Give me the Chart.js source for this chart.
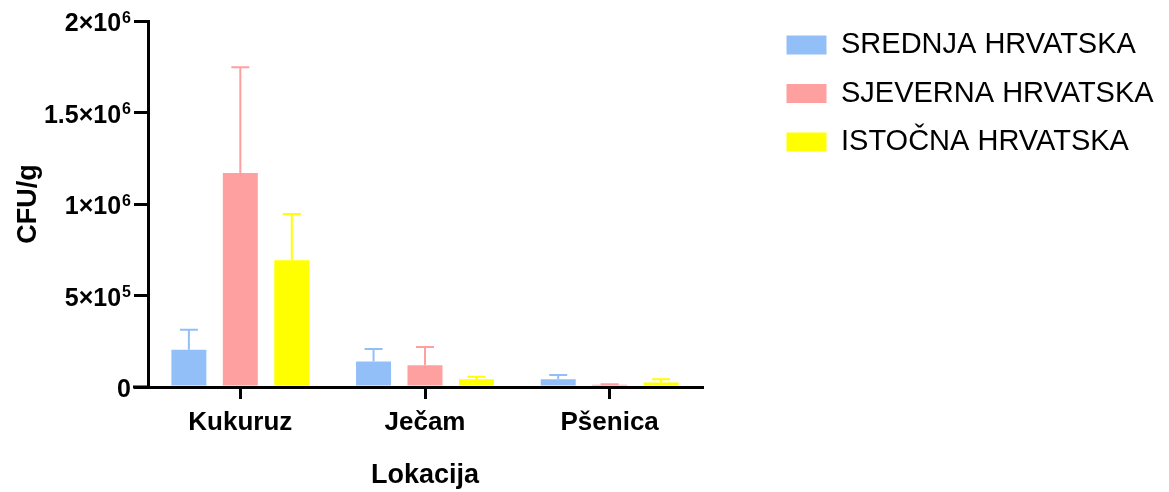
<!DOCTYPE html>
<html>
<head>
<meta charset="utf-8">
<script src="https://cdn.jsdelivr.net/npm/chart.js@4"></script>
<style>
  body { margin: 0; background: #fff; }
  #wrap { width: 1169px; height: 492px; }
</style>
</head>
<body>
<div id="wrap"><canvas id="grafikon" width="1169" height="492"></canvas></div>
<script>
// podaci ocitani sa slike
var kategorije = ['Kukuruz', 'Ječam', 'Pšenica'];
var regije = ['SREDNJA HRVATSKA', 'SJEVERNA HRVATSKA', 'ISTOČNA HRVATSKA'];
var srednja = [203000, 139000, 43000];
var srednjaSD = [110000, 68000, 22000];
var sjeverna = [1169000, 119000, 12000];
var sjevernaSD = [578000, 99000, 3000];
var istocna = [693000, 43000, 25000];
var istocnaSD = [252000, 13000, 18000];
// oznake y osi: baza i eksponent
var yVrijednosti = [0, 500000, 1000000, 1500000, 2000000];
var yBaze = ['0', '5×10', '1×10', '1.5×10', '2×10'];
var yEksponenti = ['', '5', '6', '6', '6'];

var boje = ['#93BFF8', '#FFA0A0', '#FFFF00'];
var font = "'Liberation Sans', Arial, sans-serif";

// error bars (samo prema gore)
var errorBars = {
    id: 'errorBars',
    afterDatasetsDraw: function (chart) {
        var ctx = chart.ctx;
        var y = chart.scales.y;
        chart.data.datasets.forEach(function (ds, i) {
            chart.getDatasetMeta(i).data.forEach(function (bar, j) {
                var top = y.getPixelForValue(ds.data[j] + ds.errors[j]);
                ctx.save();
                ctx.strokeStyle = ds.backgroundColor;
                ctx.lineWidth = 2;
                ctx.beginPath();
                ctx.moveTo(bar.x, bar.y);
                ctx.lineTo(bar.x, top);
                ctx.moveTo(bar.x - 9, top);
                ctx.lineTo(bar.x + 9, top);
                ctx.stroke();
                ctx.restore();
            });
        });
    }
};

// x os malo produzena lijevo od y osi + oznake y osi s eksponentom
var osi = {
    id: 'osi',
    afterDraw: function (chart) {
        var ctx = chart.ctx;
        var a = chart.chartArea;
        var s = chart.scales.y;
        ctx.save();
        ctx.fillStyle = '#000';
        ctx.fillRect(a.left - 15, a.bottom - 1.5, 15, 3);
        ctx.textBaseline = 'alphabetic';
        ctx.textAlign = 'left';
        s.ticks.forEach(function (t, i) {
            var py = s.getPixelForValue(t.value);
            var desno = s.right - 17;
            ctx.font = 'bold 16px ' + font;
            var we = yEksponenti[i] ? ctx.measureText(yEksponenti[i]).width + 1 : 0;
            ctx.font = 'bold 25px ' + font;
            var wb = ctx.measureText(yBaze[i]).width;
            var x0 = desno - we - wb;
            ctx.fillText(yBaze[i], x0, py + 10);
            if (yEksponenti[i]) {
                ctx.font = 'bold 16px ' + font;
                ctx.fillText(yEksponenti[i], x0 + wb + 1, py + 1.5);
            }
        });
        ctx.restore();
    }
};

// legenda odmaknuta od grafa
var legendaPomak = {
    id: 'legendaPomak',
    beforeInit: function (chart) {
        var fit = chart.legend.fit;
        chart.legend.fit = function () {
            fit.call(this);
            this.width = 467;
        };
    },
    afterLayout: function (chart) {
        chart.legend.left += 65;
        chart.legend.top -= 10;
    }
};

var ctx = document.getElementById('grafikon');
var mychart = new Chart(ctx, {
    type: 'bar',
    data: {
        labels: kategorije,
        datasets: [
            { label: regije[0], data: srednja, errors: srednjaSD, backgroundColor: boje[0] },
            { label: regije[1], data: sjeverna, errors: sjevernaSD, backgroundColor: boje[1] },
            { label: regije[2], data: istocna, errors: istocnaSD, backgroundColor: boje[2] }
        ]
    },
    options: {
        responsive: false,
        animation: false,
        categoryPercentage: 0.836,
        barPercentage: 0.68,
        layout: { padding: { top: 21, left: 0, right: 0, bottom: 0 } },
        plugins: {
            tooltip: { enabled: false },
            legend: {
                position: 'right',
                align: 'start',
                labels: {
                    boxWidth: 40,
                    boxHeight: 19,
                    padding: 19.5,
                    color: '#000',
                    font: { family: font, size: 29 }
                }
            }
        },
        scales: {
            x: {
                afterFit: function (s) { s.height = 105; },
                grid: { display: true, drawOnChartArea: false, offset: false, tickLength: 12, lineWidth: 3, color: '#000' },
                border: { display: true, width: 3, color: '#000' },
                ticks: { color: '#000', padding: 8, font: { family: font, size: 26, weight: 'bold' } },
                title: { display: true, text: 'Lokacija', color: '#000', padding: { top: 0, bottom: 0 }, font: { family: font, size: 27, weight: 'bold' } }
            },
            y: {
                min: 0,
                max: 2000000,
                afterFit: function (s) { s.width = 148; },
                afterBuildTicks: function (s) {
                    s.ticks = yVrijednosti.map(function (v) { return { value: v }; });
                },
                grid: { display: true, drawOnChartArea: false, tickLength: 14, lineWidth: 3, color: '#000' },
                border: { display: true, width: 3, color: '#000' },
                ticks: { display: false },
                title: { display: true, text: 'CFU/g', color: '#000', padding: { top: 12, bottom: 0 }, font: { family: font, size: 27, weight: 'bold' } }
            }
        }
    },
    plugins: [errorBars, osi, legendaPomak]
});
</script>
</body>
</html>
